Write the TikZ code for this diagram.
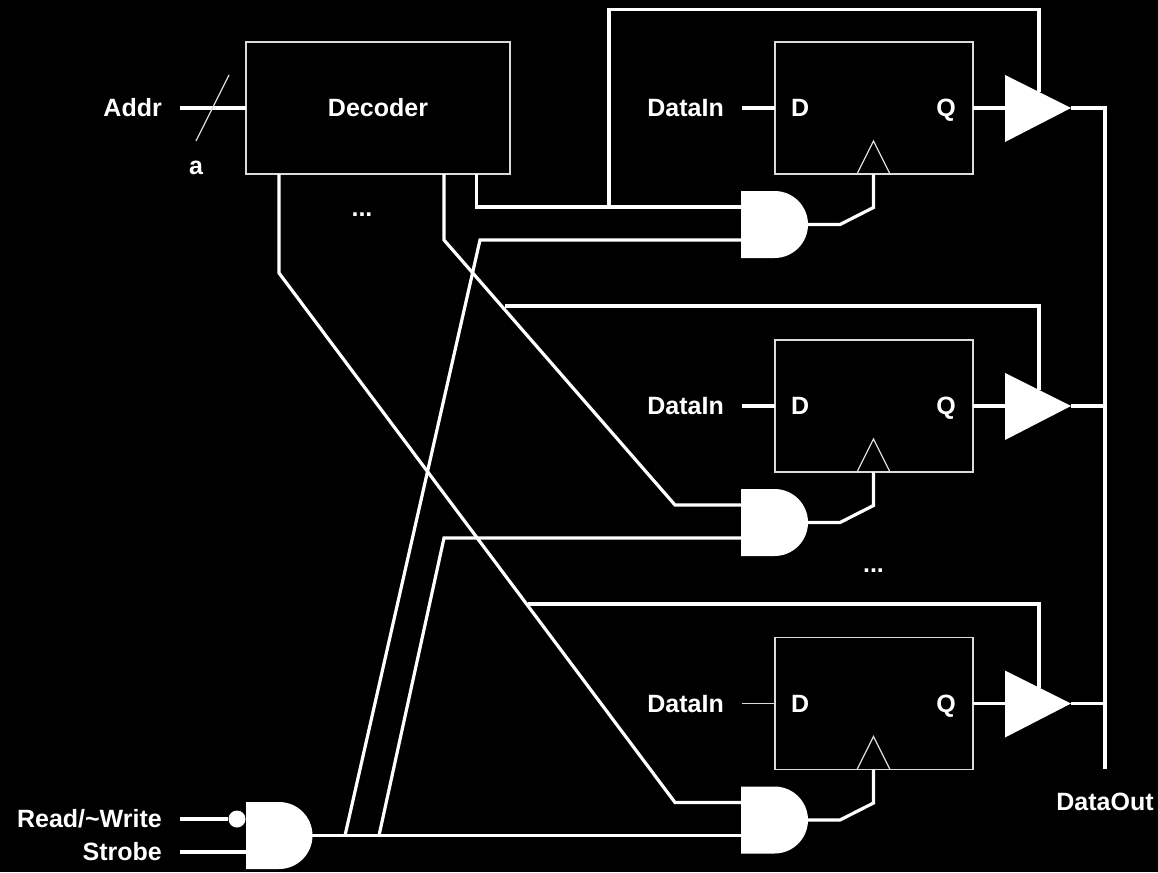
\documentclass[tikz,border=0pt]{standalone}
\usepackage{fontspec}
\setmainfont{Liberation Sans}
\definecolor{thingrey}{gray}{0.86}
\tikzset{
  wire/.style={draw=white,line width=3.2pt,line join=miter},
  thinwire/.style={draw=thingrey,line width=1.2pt},
  box/.style={draw=thingrey,line width=1.2pt,fill=black,rectangle,inner sep=0pt,minimum width=#1},
  lab/.style={text=white,inner sep=0pt,font=\fontsize{25}{30}\selectfont\bfseries},
  solid shape/.style={fill=white,draw=none}
}
\begin{document}
\begin{tikzpicture}[x=1pt,y=-1pt]
\useasboundingbox[fill=black] (0,0) rectangle (1158,872);

% decoder
\node[box=264pt,minimum height=132pt] (dec) at (378,108) {};
\node[lab,anchor=base] (dectxt) at (378,116.5) {Decoder};
\coordinate (decin) at (246,108);
\coordinate (addrstart) at (180,108);
\coordinate (slashA) at (196,141);
\coordinate (slashB) at (229,75);
\node[lab,anchor=base east] (addr) at (162,116.5) {Addr};
\node[lab,anchor=base] (alab) at (196,174) {a};
\node[lab,anchor=base] (dots1) at (362,216) {...};
\node[lab,anchor=base] (dots2) at (873.5,572) {...};

\foreach \n/\o/\dw in {1/0/wire,2/298/wire,3/595.5/thinwire}{
  \node[box=198pt,minimum height=132pt] (ff\n) at (874,108+\o) {};
  \node[lab,anchor=base west] (d\n) at (791,116.5+\o) {D};
  \node[lab,anchor=base east] (q\n) at (956,116.5+\o) {Q};
  \node[lab,anchor=base east] (din\n) at (724,116.5+\o) {DataIn};
  \coordinate (ds\n) at (742,108+\o);
  \coordinate (dp\n) at (775,108+\o);
  \coordinate (qp\n) at (973,108+\o);
  % clock triangle
  \coordinate (ca\n) at (857,174+\o);
  \coordinate (ct\n) at (873.5,141+\o);
  \coordinate (cb\n) at (890,174+\o);
  \draw[thinwire,line join=miter] (ca\n) -- (ct\n) -- (cb\n);
  % AND gate
  \coordinate (gt\n) at (741,191+\o);
  \coordinate (gb\n) at (741,258+\o);
  \coordinate (gi\n) at (741,207+\o);
  \coordinate (gj\n) at (741,240+\o);
  \coordinate (go\n) at (806,224.5+\o);
  \fill[solid shape] (gt\n) -- ++(33.5,0) arc[start angle=90,end angle=-90,radius=33.5pt] -- (gb\n) -- cycle;
  % buffer
  \coordinate (bt\n) at (1005,75+\o);
  \coordinate (bl\n) at (1005,108+\o);
  \coordinate (bb\n) at (1005,142+\o);
  \coordinate (bo\n) at (1071,108+\o);
  \coordinate (bc\n) at (1039,92+\o);
  \fill[solid shape] (bt\n) -- (bo\n) -- (bb\n) -- cycle;
  \coordinate (bus\n) at (1105,108+\o);
  % wires
  \draw[\dw] (ds\n) -- (dp\n);
  \draw[wire] (qp\n) -- (bl\n);
  \draw[wire] (bo\n) -- (bus\n);
  \draw[wire] (go\n) -- ++(34,0) -- ++(33.5,-17) -- (873.5,174+\o);
}

% addr
\draw[wire] (addrstart) -- (decin);
\draw[thinwire] (slashA) -- (slashB);

% bus
\coordinate (bustop) at (1105,106.4);
\coordinate (busend) at (1105,769);
\draw[wire] (bustop) -- (busend);
\node[lab,anchor=base] (dout) at (1105,810.7) {DataOut};

% bottom gate
\coordinate (ngt) at (246,802);
\coordinate (ngb) at (246,869);
\coordinate (ngo) at (310,835.5);
\fill[solid shape] (ngt) -- ++(33,0) arc[start angle=90,end angle=-90,radius=33.5pt] -- (ngb) -- cycle;
\node[circle,fill=white,inner sep=0pt,minimum size=17pt] (bub) at (237,819) {};
\node[lab,anchor=base east] (rw) at (162,827) {Read/\char`\~Write};
\node[lab,anchor=base east] (st) at (162,860) {Strobe};
\coordinate (rws) at (180,819);
\coordinate (sts) at (180,852);
\coordinate (stp) at (246,852);
\draw[wire] (rws) -- (bub);
\draw[wire] (sts) -- (stp);

% strobe to gates
\coordinate (j1) at (345,835.5);
\coordinate (j2) at (379,835.5);
\draw[wire] (ngo) -- (gj3);
\draw[wire] (j1) -- (480,240) -- (gj1);
\draw[wire] (j2) -- (444,538) -- (gj2);

% decoder outputs
\coordinate (o1) at (476.5,174);
\coordinate (o2) at (444,174);
\coordinate (o3) at (279,174);
\draw[wire] (o1) -- (476.5,207) -- (gi1);
\draw[wire] (o2) -- (444,240) -- (675,505) -- (gi2);
\draw[wire] (o3) -- (279,273) -- (675,802.5) -- (gi3);

% enables
\coordinate (e1) at (609,207);
\coordinate (e2) at (505,306);
\coordinate (e3) at (528,604);
\draw[wire] (e1) -- (609,9.5) -- (1039,9.5) -- (bc1);
\draw[wire] (e2) -- (1039,306) -- (bc2);
\draw[wire] (e3) -- (1039,604) -- (bc3);
\end{tikzpicture}
\end{document}
